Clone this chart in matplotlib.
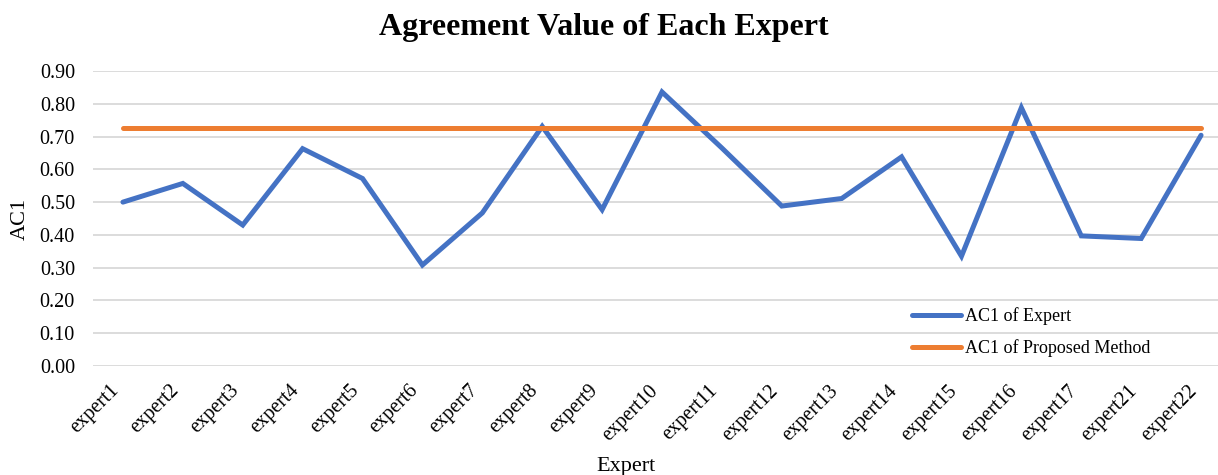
import matplotlib
matplotlib.use("Agg")
import matplotlib.pyplot as plt
import matplotlib.transforms as mtransforms

plt.rcParams['font.family'] = ['Liberation Serif', 'DejaVu Serif']

experts = ["expert1", "expert2", "expert3", "expert4", "expert5", "expert6", "expert7",
           "expert8", "expert9", "expert10", "expert11", "expert12", "expert13", "expert14",
           "expert15", "expert16", "expert17", "expert21", "expert22"]
ac1_expert = [0.50, 0.557, 0.430, 0.663, 0.572, 0.308, 0.467, 0.731, 0.477, 0.836,
              0.665, 0.488, 0.511, 0.638, 0.335, 0.788, 0.397, 0.389, 0.704]
ac1_proposed = [0.727] * len(experts)
y_ticks = [0.0, 0.1, 0.2, 0.3, 0.4, 0.5, 0.6, 0.7, 0.8, 0.9]

W, H = 1218, 475
fig = plt.figure(figsize=(W/100, H/100), dpi=100)
left, right, top, bottom = 93, 1231, 71, 366
ax = fig.add_axes([left/W, 1-bottom/H, (right-left)/W, (bottom-top)/H])

x = list(range(len(experts)))
ax.plot(x, ac1_expert, color='#4472C4', lw=3.6, label='AC1 of Expert',
        solid_joinstyle='miter', solid_capstyle='round', zorder=3, clip_on=False)
ax.plot(x, ac1_proposed, color='#ED7D31', lw=3.6, label='AC1 of Proposed Method',
        solid_capstyle='round', zorder=3, clip_on=False)

ax.set_xlim(-0.5, len(experts) - 0.5)
ax.set_ylim(0, 0.9)
ax.set_yticks(y_ticks)
ax.set_yticklabels([f"{v:.2f}" for v in y_ticks], fontsize=14.5)
ax.set_xticks(x)
ax.set_xticklabels(experts, rotation=45, ha='right', va='top', fontsize=14.5)
offset = mtransforms.ScaledTranslation(8/100, 0, fig.dpi_scale_trans)
for lbl in ax.get_xticklabels():
    lbl.set_transform(lbl.get_transform() + offset)

ax.grid(axis='y', color='#d9d9d9', lw=1.3, zorder=0)
ax.set_axisbelow(True)
for s in ax.spines.values():
    s.set_visible(False)
ax.tick_params(axis='y', length=0, pad=13)
ax.tick_params(axis='x', length=0, pad=11)

fig.text(20/W, 1-219/H, 'AC1', fontsize=16, rotation=90, ha='center', va='center')
fig.text(626/W, 1-466/H, 'Expert', fontsize=16, ha='center', va='center')
fig.text(604/W, 1-27/H, 'Agreement Value of Each Expert', fontsize=23,
         fontweight='bold', ha='center', va='center')

ax.legend(loc='upper left', bbox_to_anchor=((912-left)/(right-left), (bottom-307)/(bottom-top)),
          frameon=False, fontsize=13, handlelength=2.7, handletextpad=0.25,
          labelspacing=0.78, borderaxespad=0, borderpad=0)

fig.savefig('out.png', dpi=100)
